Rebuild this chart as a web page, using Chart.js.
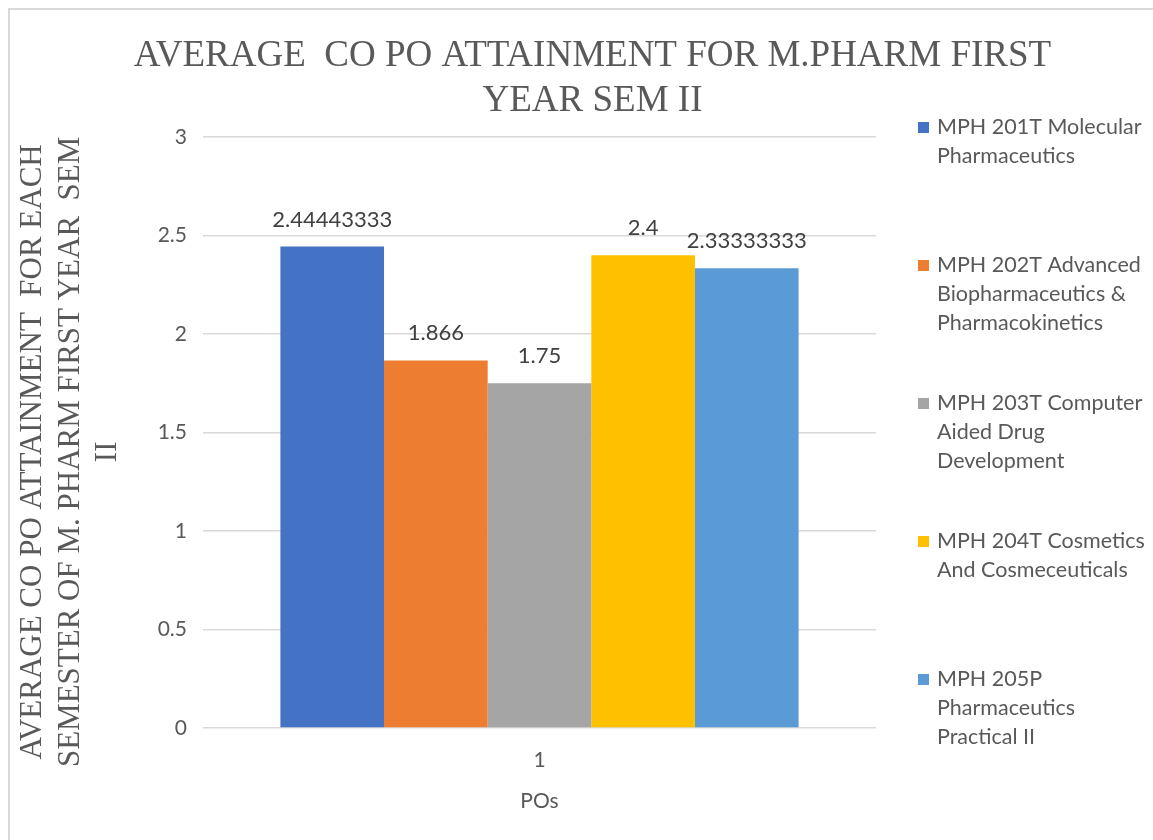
<!DOCTYPE html>
<html>
<head>
<meta charset="utf-8">
<script src="https://cdn.jsdelivr.net/npm/chart.js@4.4.1/dist/chart.umd.min.js"></script>
<style>
  html, body { margin: 0; padding: 0; background: #ffffff; overflow: hidden; width: 1153px; height: 840px; }
  #frame { position: absolute; left: 8px; top: 8px; width: 1165px; height: 860px; border: 2px solid #d9d9d9; background: #ffffff; }
  #c { position: absolute; left: 0; top: 0; }
</style>
</head>
<body>
<div id="frame"><canvas id="c" width="1165" height="830"></canvas></div>
<script>
// ---- data ----
const categories = ['1'];
const seriesNames = [
  'MPH 201T Molecular Pharmaceutics',
  'MPH 202T Advanced Biopharmaceutics & Pharmacokinetics',
  'MPH 203T Computer Aided Drug Development',
  'MPH 204T Cosmetics And Cosmeceuticals',
  'MPH 205P Pharmaceutics Practical II'
];
const legendLines = [
  ['MPH 201T Molecular', 'Pharmaceutics'],
  ['MPH 202T Advanced', 'Biopharmaceutics &', 'Pharmacokinetics'],
  ['MPH 203T Computer', 'Aided Drug', 'Development'],
  ['MPH 204T Cosmetics', 'And Cosmeceuticals'],
  ['MPH 205P', 'Pharmaceutics', 'Practical II']
];
const seriesValues = [2.44443333, 1.866, 1.75, 2.4, 2.33333333];
const seriesColors = ['#4472C4', '#ED7D31', '#A5A5A5', '#FFC000', '#5B9BD5'];
const yTickMin = 0;
const yTickMax = 3;
const yTickStep = 0.5;
const titleLines = ['AVERAGE  CO PO ATTAINMENT FOR M.PHARM FIRST', 'YEAR SEM II'];
const yTitleLines = ['AVERAGE CO PO ATTAINMENT  FOR EACH', 'SEMESTER OF M. PHARM FIRST YEAR  SEM', 'II'];
const xTitle = 'POs';

// ---- styles ----
const SANS = 'Lato, "Open Sans", sans-serif';
const SERIF = '"Liberation Serif", "Times New Roman", serif';
const TEXT_GRAY = '#595959';

const valueLabels = {
  id: 'valueLabels',
  afterDatasetsDraw(chart) {
    const ctx = chart.ctx;
    ctx.save();
    ctx.font = '22px ' + SANS;
    ctx.fillStyle = '#404040';
    ctx.textAlign = 'center';
    ctx.textBaseline = 'middle';
    chart.data.datasets.forEach((ds, i) => {
      const meta = chart.getDatasetMeta(i);
      meta.data.forEach((bar, j) => {
        ctx.fillText(String(ds.data[j]), bar.x, bar.y - 27);
      });
    });
    ctx.restore();
  }
};

const sideLegend = {
  id: 'sideLegend',
  afterDraw(chart) {
    const ctx = chart.ctx;
    const area = chart.chartArea;
    const cy = (area.top + area.bottom) / 2;
    const step = 138, lineH = 29, box = 11;
    const x0 = area.right + 42;
    ctx.save();
    ctx.font = '21.5px ' + SANS;
    ctx.textBaseline = 'middle';
    ctx.textAlign = 'left';
    chart.data.datasets.forEach((ds, i) => {
      const y0 = cy + (i - 2) * step - lineH;
      ctx.fillStyle = ds.backgroundColor;
      ctx.fillRect(x0, y0 - box / 2, box, box);
      ctx.fillStyle = TEXT_GRAY;
      legendLines[i].forEach((ln, k) => {
        ctx.fillText(ln, x0 + box + 8, y0 + k * lineH);
      });
    });
    ctx.restore();
  }
};

new Chart(document.getElementById('c'), {
  type: 'bar',
  data: {
    labels: categories,
    datasets: seriesNames.map((name, i) => ({
      label: name,
      data: [seriesValues[i]],
      backgroundColor: seriesColors[i],
      borderWidth: 0,
      categoryPercentage: 0.77,
      barPercentage: 1.0
    }))
  },
  options: {
    responsive: false,
    animation: false,
    layout: { padding: { left: 0, right: 0, top: 0, bottom: 26 } },
    plugins: {
      legend: { display: false },
      tooltip: { enabled: false },
      title: {
        display: true,
        text: titleLines,
        color: TEXT_GRAY,
        font: { family: SERIF, size: 37, weight: 'normal', lineHeight: 1.22 },
        padding: { top: 23.5, bottom: 13.2 }
      }
    },
    scales: {
      x: {
        grid: { display: false, drawTicks: false },
        border: { display: false },
        ticks: { color: TEXT_GRAY, font: { family: SANS, size: 21 }, padding: 20 },
        title: { display: true, text: xTitle, color: TEXT_GRAY, font: { family: SANS, size: 21 }, padding: { top: 0, bottom: 0 } },
        afterFit(s) { s.height = 86; }
      },
      y: {
        min: yTickMin,
        max: yTickMax,
        ticks: { stepSize: yTickStep, color: TEXT_GRAY, font: { family: SANS, size: 21 }, padding: 16,
                 callback: (v) => String(v) },
        grid: { color: '#d9d9d9', lineWidth: 1.5, drawTicks: false },
        border: { display: false },
        title: {
          display: true,
          // trailing spaces nudge the centred rotated title slightly downward, as in the original
          text: yTitleLines.map(s => s + '     '),
          color: TEXT_GRAY,
          font: { family: SERIF, size: 31, weight: 'normal', lineHeight: 1.21 },
          padding: { top: 4.5, bottom: 0 }
        },
        afterFit(s) { s.width = 193; }
      },
      legendSpace: {
        type: 'linear',
        position: 'right',
        display: true,
        grid: { display: false, drawTicks: false },
        border: { display: false },
        ticks: { display: false },
        afterFit(s) { s.width = 299; }
      }
    }
  },
  plugins: [valueLabels, sideLegend]
});
</script>
</body>
</html>
